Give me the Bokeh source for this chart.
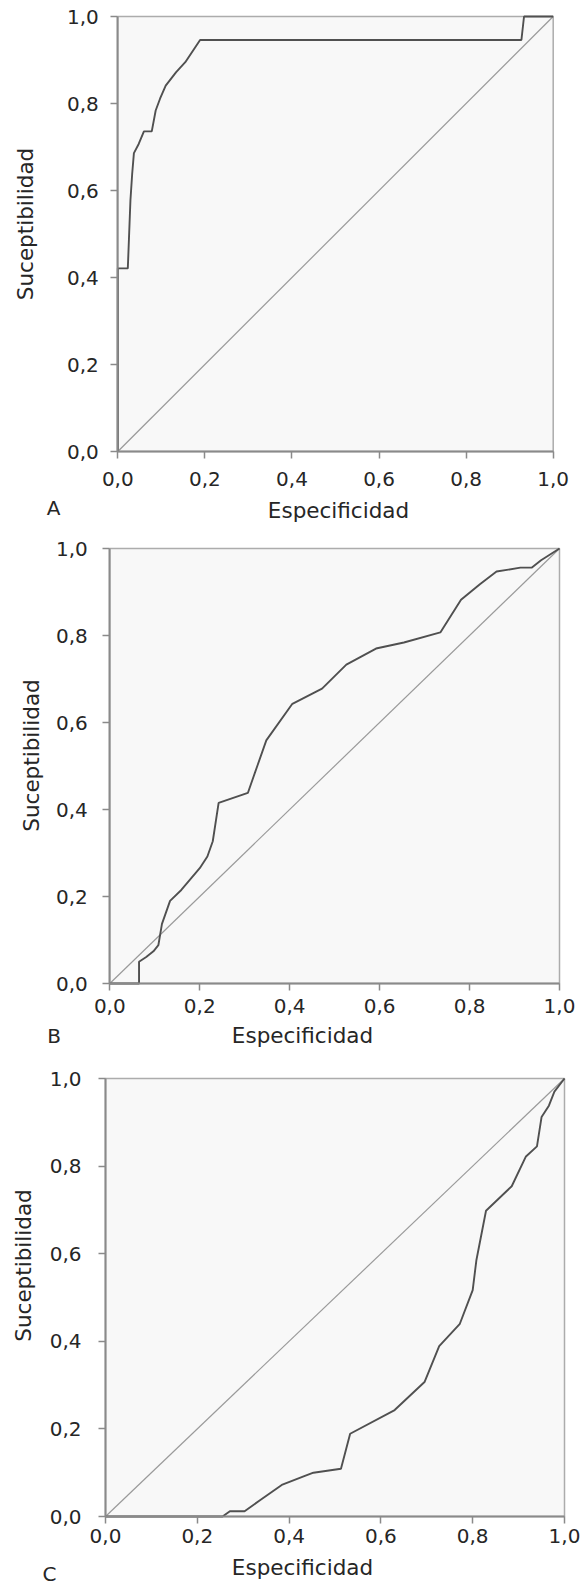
import math
from bokeh.plotting import figure
from bokeh.layouts import column
from bokeh.models import Range1d, FixedTicker, CustomJSTickFormatter, Label
from bokeh.embed import file_html
from bokeh.resources import INLINE

# ---- data ----
tick_values = [0.0, 0.2, 0.4, 0.6, 0.8, 1.0]
diag = [0.0, 1.0]

spec_a = [0.0, 0.0, 0.023, 0.029, 0.033, 0.037, 0.048, 0.060, 0.078, 0.087, 0.097,
          0.110, 0.134, 0.155, 0.189, 0.927, 0.933, 1.0]
sens_a = [0.0, 0.421, 0.421, 0.577, 0.638, 0.686, 0.707, 0.736, 0.736, 0.784, 0.811,
          0.841, 0.872, 0.895, 0.946, 0.946, 1.0, 1.0]

spec_b = [0.0, 0.065, 0.065, 0.081, 0.097, 0.108, 0.116, 0.134, 0.159, 0.200, 0.217,
          0.229, 0.242, 0.307, 0.328, 0.348, 0.406, 0.472, 0.526, 0.592, 0.654, 0.735,
          0.781, 0.823, 0.860, 0.913, 0.938, 0.959, 1.0]
sens_b = [0.0, 0.0, 0.050, 0.061, 0.074, 0.088, 0.137, 0.190, 0.215, 0.265, 0.292,
          0.327, 0.415, 0.438, 0.500, 0.559, 0.643, 0.678, 0.733, 0.770, 0.784, 0.807,
          0.882, 0.918, 0.947, 0.956, 0.956, 0.973, 1.0]

spec_c = [0.0, 0.255, 0.271, 0.303, 0.335, 0.384, 0.433, 0.453, 0.513, 0.533, 0.630,
          0.695, 0.727, 0.772, 0.800, 0.808, 0.829, 0.885, 0.916, 0.940, 0.950, 0.966,
          0.978, 1.0]
sens_c = [0.0, 0.0, 0.012, 0.012, 0.036, 0.072, 0.092, 0.100, 0.109, 0.189, 0.243,
          0.307, 0.389, 0.440, 0.517, 0.585, 0.698, 0.754, 0.822, 0.845, 0.912, 0.938,
          0.970, 1.0]

x_title = "Especificidad"
y_title = "Suceptibilidad"
letters = ["A", "B", "C"]

FONT = "DejaVu Sans"
TXT = "#262626"
W = 580
lo, hi = tick_values[0], tick_values[-1]


def panel(spec, sens, letter, fig_h, box_left, box_w, box_top, box_h,
          x_std, y_std, letter_px, xt_px, yt_px):
    box_bottom = box_top + box_h
    xr = Range1d(-box_left / box_w, (W - box_left) / box_w)
    yr = Range1d(-(fig_h - box_bottom) / box_h, box_bottom / box_h)
    p = figure(width=W, height=fig_h, x_range=xr, y_range=yr,
               min_border=0, min_border_left=0, min_border_right=0,
               min_border_top=0, min_border_bottom=0,
               output_backend="svg", toolbar_location=None,
               background_fill_color="white", border_fill_color="white",
               outline_line_color=None)
    p.xgrid.visible = False
    p.ygrid.visible = False

    # plot box
    p.quad(left=[lo], right=[hi], bottom=[lo], top=[hi],
           fill_color="#f8f8f8", line_color="#acacac", line_width=1.5)

    fmt = CustomJSTickFormatter(code="return tick.toFixed(1).replace('.', ',');")
    for ax, std in ((p.xaxis[0], x_std), (p.yaxis[0], y_std)):
        ax.fixed_location = lo
        ax.bounds = (lo, hi)
        ax.ticker = FixedTicker(ticks=tick_values, minor_ticks=[])
        ax.formatter = fmt
        ax.major_tick_in = 0
        ax.major_tick_out = 7
        ax.major_tick_line_color = "#8a8a8a"
        ax.major_tick_line_width = 1.5
        ax.minor_tick_line_color = None
        ax.axis_line_color = "#8a8a8a"
        ax.axis_line_width = 2
        ax.major_label_text_font = FONT
        ax.major_label_text_font_size = "20px"
        ax.major_label_text_color = TXT
        ax.major_label_standoff = std

    p.line(diag, diag, line_color="#9a9a9a", line_width=1.2)
    p.line(spec, sens, line_color="#505050", line_width=1.9)

    def to_data(px, py):
        return (px - box_left) / box_w, (box_bottom - py) / box_h

    base = dict(text_font=FONT, text_color=TXT,
                text_align="center", text_baseline="middle")
    for (px, py), txt, ang, size in ((letter_px, letter, 0.0, "20px"),
                                     (xt_px, x_title, 0.0, "21.5px"),
                                     (yt_px, y_title, math.pi / 2, "21.5px")):
        dx, dy = to_data(px, py)
        p.add_layout(Label(x=dx, y=dy, text=txt, angle=ang,
                           text_font_size=size, **base))
    return p


# geometry in canvas pixels (each figure's own top-left origin)
pa = panel(spec_a, sens_a, letters[0], 528, 117.3, 435.4, 16, 435, 13, 12,
           (53, 507.5), (338, 510), (25, 223.5))
pb = panel(spec_b, sens_b, letters[1], 522, 109.3, 449.7, 20, 435, 8, 15,
           (53.5, 507), (302, 507), (30.5, 227))
pc = panel(spec_c, sens_c, letters[2], 537, 105, 459, 28, 438, 5, 17,
           (49, 523), (302, 517), (23, 215))

layout = column(pa, pb, pc, spacing=0)
open("out.html", "w").write(file_html(layout, INLINE))
